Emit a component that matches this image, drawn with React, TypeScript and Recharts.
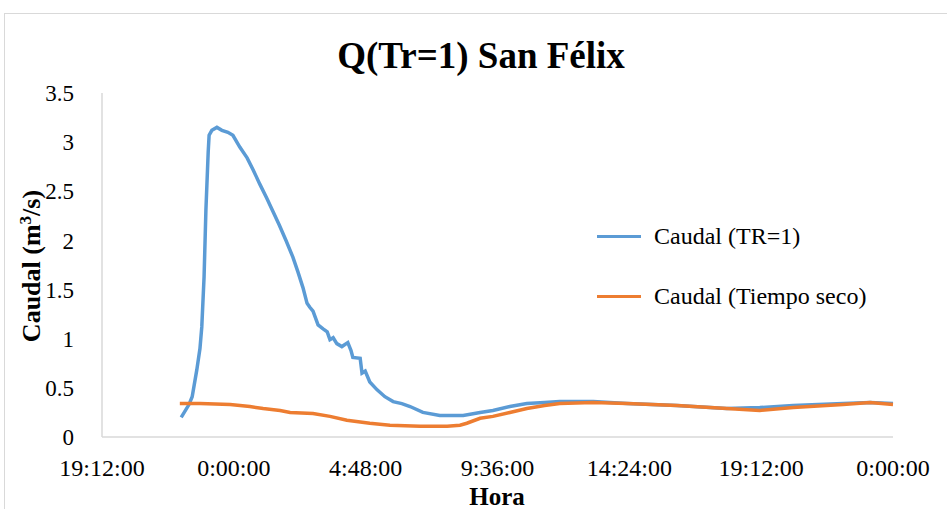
import React from 'react';
import { LineChart, Line, XAxis, YAxis, Legend } from 'recharts';

// x values are minutes after 19:12:00 of the first day
const tickMinutes = [0, 288, 576, 864, 1152, 1440, 1728];
const tickLabels = ['19:12:00', '0:00:00', '4:48:00', '9:36:00', '14:24:00', '19:12:00', '0:00:00'];
const yTicks = [0, 0.5, 1, 1.5, 2, 2.5, 3, 3.5];

const trMinutes = [
  173, 190, 197, 207, 214, 218, 223, 227, 232, 234, 240, 251, 262, 275, 286, 301, 317, 330, 345, 360,
  373, 387, 402, 417, 428, 439, 448, 454, 461, 472, 483, 492, 498, 505, 513, 524, 537, 544, 548, 564,
  568, 575, 585, 601, 618, 636, 655, 673, 701, 738, 789, 826, 854, 891, 928, 967, 1000, 1073, 1147, 1256,
  1365, 1437, 1510, 1619, 1678, 1728,
];
const trCaudal = [
  0.2, 0.33, 0.41, 0.68, 0.9, 1.12, 1.63, 2.31, 2.9, 3.07, 3.12, 3.15, 3.12, 3.1, 3.07, 2.95, 2.84, 2.72, 2.57, 2.43,
  2.3, 2.16, 2.0, 1.83, 1.68, 1.52, 1.36, 1.32, 1.28, 1.14, 1.1, 1.07, 0.99, 1.01, 0.95, 0.92, 0.96, 0.88, 0.81, 0.8,
  0.65, 0.67, 0.56, 0.48, 0.41, 0.36, 0.34, 0.31, 0.25, 0.22, 0.22, 0.25, 0.27, 0.31, 0.34, 0.35, 0.36, 0.36, 0.34, 0.32,
  0.29, 0.3, 0.32, 0.34, 0.35, 0.34,
];

const secoMinutes = [
  170, 214, 280, 323, 352, 389, 411, 461, 498, 535, 585, 629, 695, 754, 782, 797, 826, 854, 891, 928,
  967, 1000, 1073, 1147, 1256, 1365, 1437, 1510, 1619, 1678, 1728,
];
const secoCaudal = [
  0.34, 0.34, 0.33, 0.31, 0.29, 0.27, 0.25, 0.24, 0.21, 0.17, 0.14, 0.12, 0.11, 0.11, 0.12, 0.14, 0.19, 0.21, 0.25, 0.29,
  0.32, 0.34, 0.35, 0.34, 0.32, 0.29, 0.27, 0.3, 0.33, 0.35, 0.33,
];

const trData = trMinutes.map((t, i) => ({ t, q: trCaudal[i] }));
const secoData = secoMinutes.map((t, i) => ({ t, q: secoCaudal[i] }));

const FONT = "'Liberation Serif', serif";
const AXIS = '#d9d9d9';

const renderLegend = (props: any) => {
  const items = (props.payload || []) as any[];
  return (
    <div style={{ fontFamily: FONT, fontSize: 24, color: '#000' }}>
      {items.map((it, i) => (
        <div key={i} style={{ display: 'flex', alignItems: 'center', height: 40, marginBottom: 20 }}>
          <div style={{ width: 44, height: 3, background: it.color, marginRight: 13 }} />
          <span style={{ whiteSpace: 'nowrap' }}>{it.value}</span>
        </div>
      ))}
    </div>
  );
};

export default function App() {
  return (
    <div
      style={{
        position: 'absolute',
        left: 0,
        top: 0,
        width: 947,
        height: 509,
        overflow: 'hidden',
        background: '#fff',
        fontFamily: FONT,
      }}
    >
      <div
        style={{
          position: 'absolute',
          left: 4,
          top: 13,
          width: 1000,
          height: 600,
          border: `1px solid ${AXIS}`,
        }}
      />
      <div style={{ position: 'absolute', left: 0, top: 0 }}>
        <LineChart width={947} height={509} margin={{ top: 93, right: 54, bottom: 0, left: 0 }}>
          <XAxis
            type="number"
            dataKey="t"
            domain={[0, 1728]}
            ticks={tickMinutes}
            interval={0}
            tickFormatter={(v: number) => tickLabels[tickMinutes.indexOf(v)]}
            height={72}
            stroke={AXIS}
            strokeWidth={1.5}
            tickLine={false}
            tickMargin={16}
            tick={{ fill: '#000', fontSize: 24, fontFamily: FONT }}
          />
          <YAxis
            type="number"
            domain={[0, 3.5]}
            ticks={yTicks}
            interval={0}
            width={102}
            stroke={AXIS}
            strokeWidth={1.5}
            tickLine={false}
            tickMargin={22}
            tick={{ fill: '#000', fontSize: 23, fontFamily: FONT }}
          />
          <Legend
            layout="vertical"
            align="center"
            verticalAlign="middle"
            content={renderLegend}
            wrapperStyle={{ left: 597, top: 216, width: 320 }}
          />
          <Line
            data={trData}
            dataKey="q"
            name="Caudal (TR=1)"
            type="linear"
            stroke="#5B9BD5"
            strokeWidth={3.5}
            dot={false}
            isAnimationActive={false}
          />
          <Line
            data={secoData}
            dataKey="q"
            name="Caudal (Tiempo seco)"
            type="linear"
            stroke="#ED7D31"
            strokeWidth={3.5}
            dot={false}
            isAnimationActive={false}
          />
        </LineChart>
      </div>
      <svg
        width={947}
        height={509}
        style={{ position: 'absolute', left: 0, top: 0, pointerEvents: 'none' }}
      >
        <text x={481} y={68} textAnchor="middle" fontFamily={FONT} fontWeight="bold" fontSize={37} fill="#000">
          Q(Tr=1) San Félix
        </text>
        <text
          transform="translate(40,266) rotate(-90)"
          textAnchor="middle"
          fontFamily={FONT}
          fontWeight="bold"
          fontSize={26}
          fill="#000"
        >
          Caudal (m<tspan fontSize={17} dy={-9}>3</tspan>
          <tspan dy={9}>/s)</tspan>
        </text>
        <text x={497} y={505} textAnchor="middle" fontFamily={FONT} fontWeight="bold" fontSize={25} fill="#000">
          Hora
        </text>
      </svg>
    </div>
  );
}
